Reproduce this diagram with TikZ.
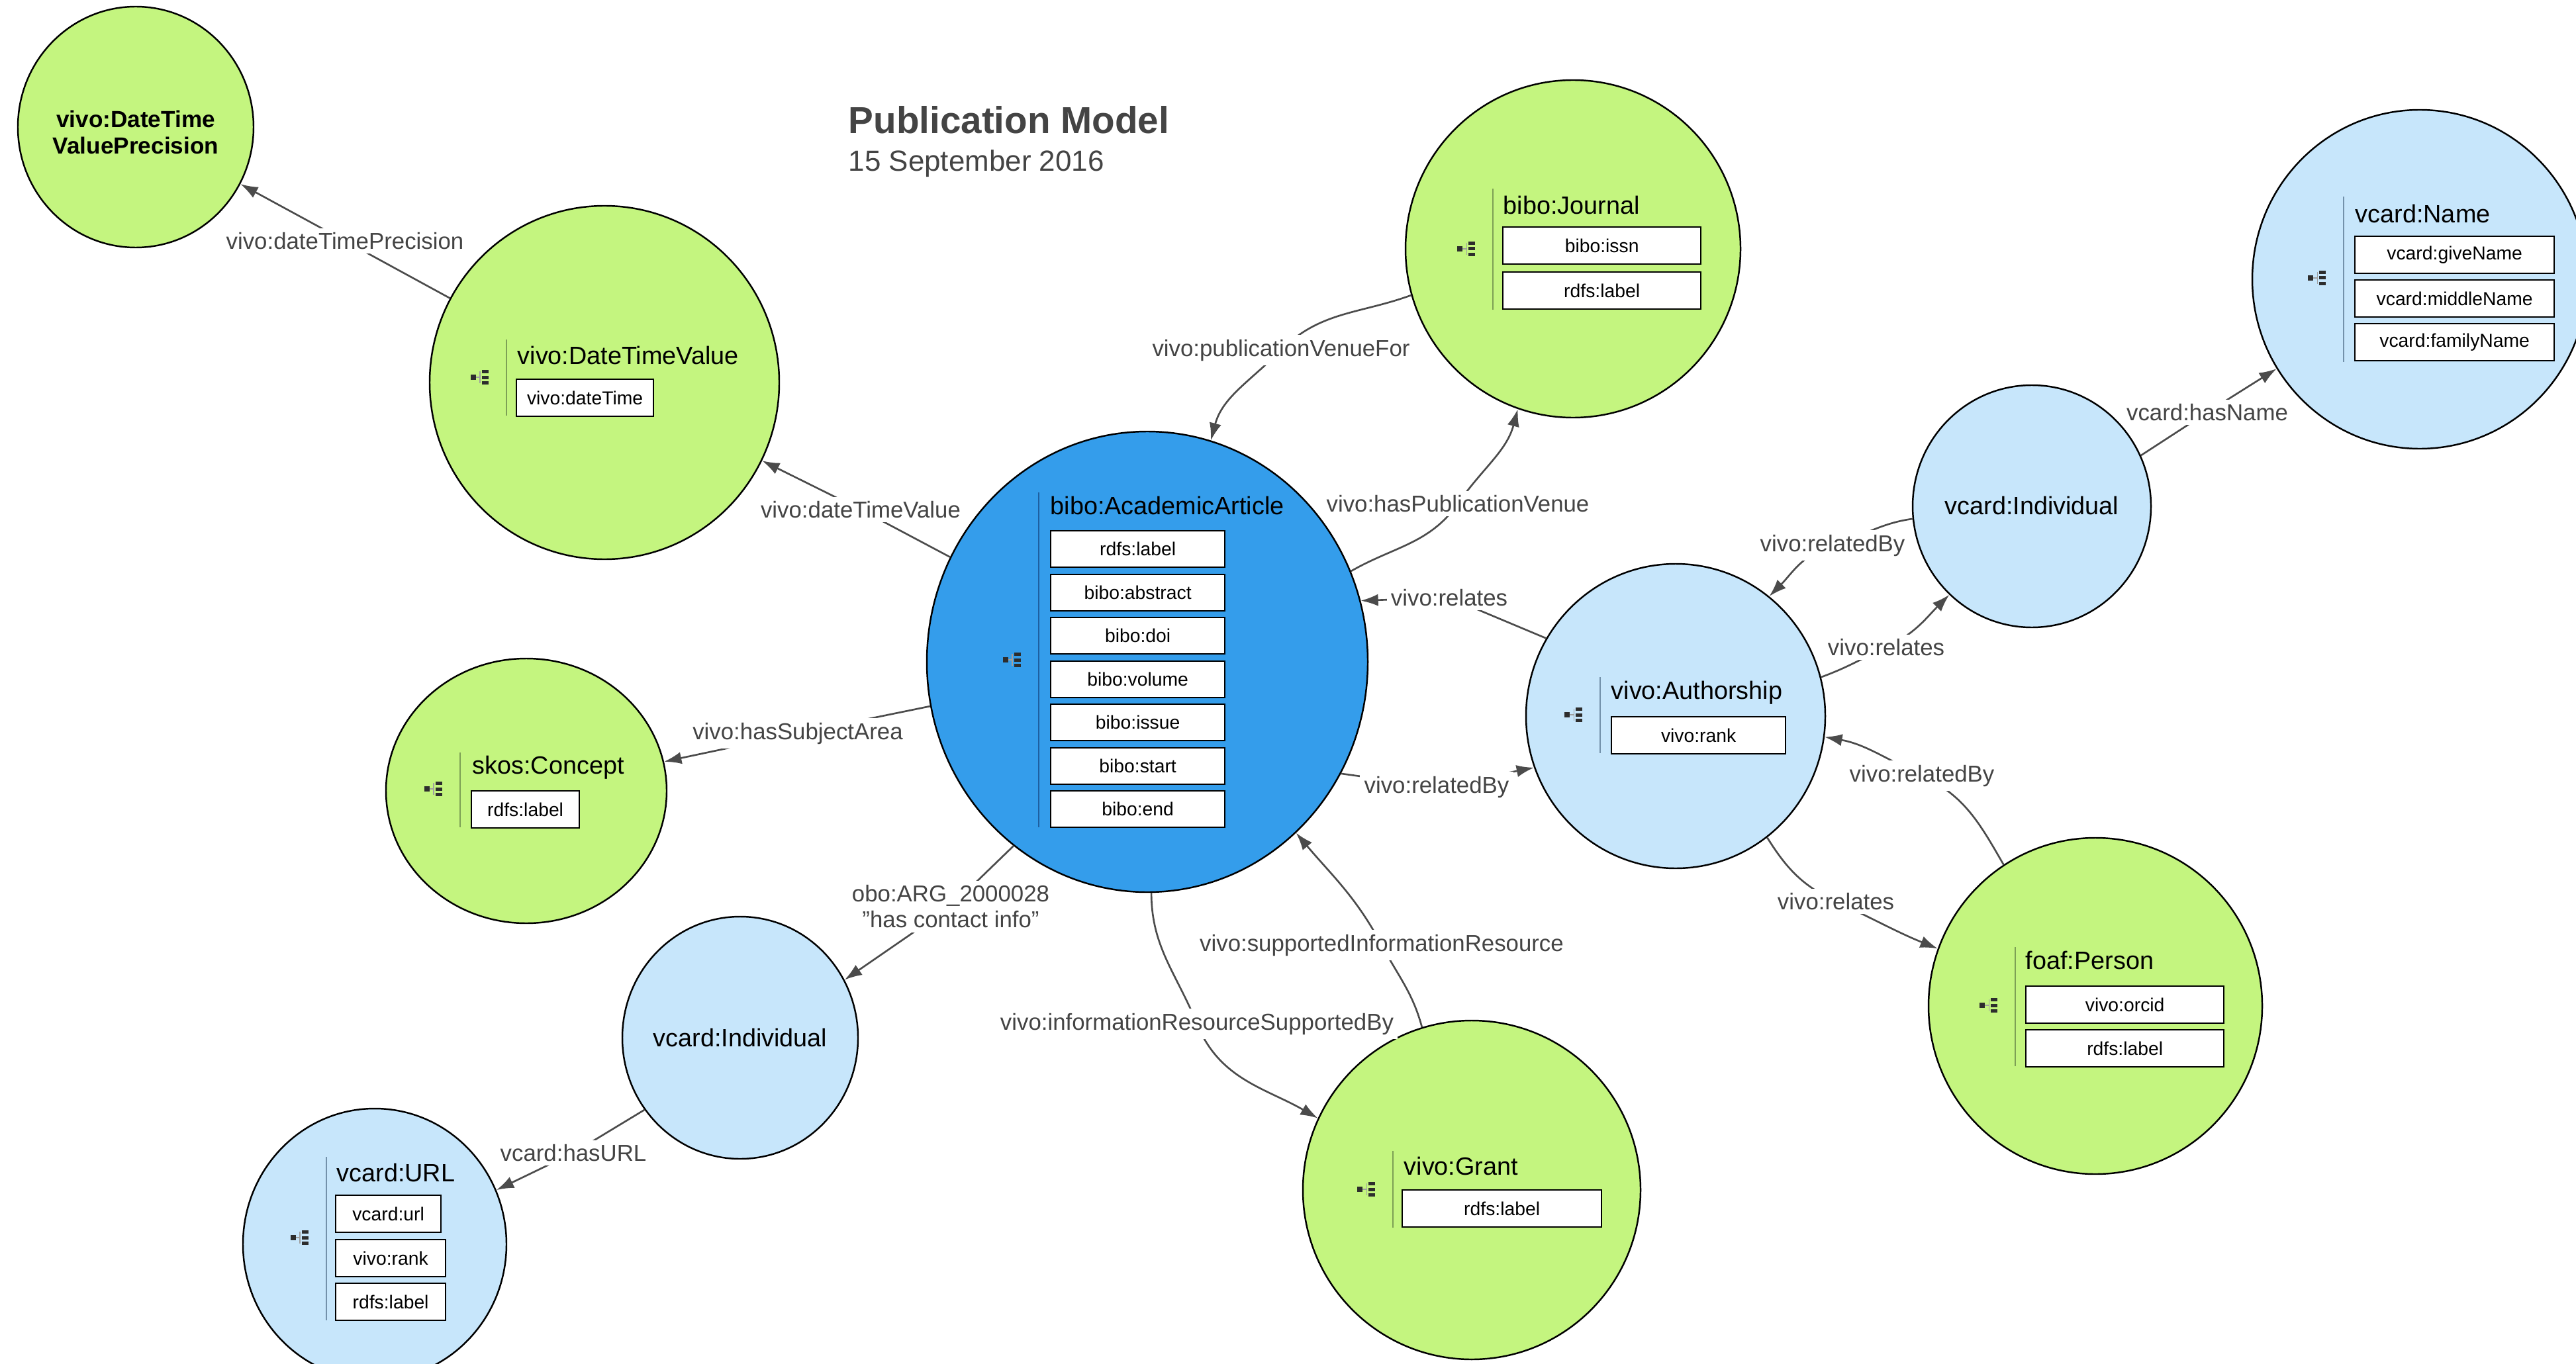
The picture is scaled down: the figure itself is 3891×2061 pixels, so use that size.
\documentclass[tikz,border=0pt]{standalone}
\usepackage{fontspec}
\setmainfont{Liberation Sans}
\usetikzlibrary{shapes.geometric,arrows.meta}
\definecolor{gfill}{RGB}{196,245,127}
\definecolor{bfill}{RGB}{199,230,251}
\definecolor{afill}{RGB}{52,157,235}
\definecolor{egray}{RGB}{75,75,75}
\definecolor{lgray}{RGB}{68,68,68}
\definecolor{gsep}{RGB}{125,160,85}
\definecolor{bsep}{RGB}{115,145,170}
\definecolor{asep}{RGB}{30,95,160}
\definecolor{icol}{RGB}{45,45,45}
\newcommand{\ttlfont}{\fontsize{10.75}{13}\selectfont}
\newcommand{\edgefont}{\fontsize{9.9}{11.1}\selectfont}
\newcommand{\propfont}{\fontsize{8.05}{9.5}\selectfont}
\newcommand{\tbicon}[2]{%
  \begin{scope}[shift={(#1,#2)}]
    \fill[icol] (-16,-4) rectangle (-8,4);
    \draw[icol!45,line width=0.3pt] (-8,0) -- (-2,0) (-2,-9) -- (-2,9);
    \fill[icol] (1,6) rectangle (11,11);
    \fill[icol] (1,-2.5) rectangle (11,2.5);
    \fill[icol] (1,-11) rectangle (11,-6);
  \end{scope}}
\begin{document}
\begin{tikzpicture}[x=0.01cm,y=0.01cm,
  cnode/.style n args={3}{ellipse, draw=black, line width=0.7pt, fill=#1,
     minimum width=#2*0.01cm, minimum height=#3*0.01cm, inner sep=0pt},
  ctitle/.style={font=\ttlfont, text=black, inner sep=0pt, anchor=west},
  pbox/.style={draw=black, line width=0.6pt, fill=white, font=\propfont,
     text=black, inner sep=0pt, anchor=north west, minimum height=0.56cm},
  sepline/.style={draw=#1, line width=0.55pt},
  elabel/.style={font=\edgefont, text=lgray, fill=white, inner sep=1.8pt, align=center},
  conn/.style={draw=egray, line width=0.75pt},
  arr/.style={conn, -{Latex[length=7.5pt,width=5.2pt]}}]

\fill[white] (0,0) rectangle (3891,-2061);
\useasboundingbox (0,0) rectangle (3891,-2061);
\clip (0,0) rectangle (3891,-2061);

% ---------------- title
\node[font=\fontsize{16.1}{19}\bfseries\selectfont, text=lgray, inner sep=0pt, anchor=base west] (title) at (1281,-202) {Publication Model};
\node[font=\fontsize{12.5}{15}\selectfont, text=lgray, inner sep=0pt, anchor=base west] (date) at (1281,-259) {15 September 2016};

% ---------------- class nodes (circles)
\node[cnode={gfill}{356}{364}] (dtvp) at (205,-192) {};
\node[cnode={gfill}{528}{534}] (dtv) at (913,-578) {};
\node[cnode={afill}{666}{696}] (aa) at (1733,-1000) {};
\node[cnode={gfill}{506}{510}] (journal) at (2376,-376) {};
\node[cnode={gfill}{424}{400}] (skos) at (795,-1195) {};
\node[cnode={bfill}{356}{366}] (vindl) at (1118,-1568) {};
\node[cnode={bfill}{398}{410}] (url) at (566,-1880) {};
\node[cnode={gfill}{510}{512}] (grant) at (2223,-1798) {};
\node[cnode={bfill}{452}{460}] (auth) at (2531,-1082) {};
\node[cnode={bfill}{360}{366}] (vindr) at (3069,-765) {};
\node[cnode={bfill}{506}{512}] (name) at (3655,-422) {};
\node[cnode={gfill}{504}{508}] (person) at (3165,-1520) {};

% ---------------- DateTimeValuePrecision
\node[font=\fontsize{10}{11.4}\bfseries\selectfont, align=center, inner sep=0pt] (dtvp-t) at (205,-200) {vivo:DateTime\\ValuePrecision};

% ---------------- DateTimeValue
\draw[sepline=gsep] (765,-513) -- (765,-628);
\tbicon{727}{-570}
\node[ctitle] (dtv-t) at (781,-537) {vivo:DateTimeValue};
\node[pbox, minimum width=2.07cm] (dtv-p0) at (779,-572) {vivo:dateTime};

% ---------------- AcademicArticle
\draw[sepline=asep] (1569,-744) -- (1569,-1250);
\tbicon{1531}{-997}
\node[ctitle] (aa-t) at (1586,-764) {bibo:AcademicArticle};
\foreach \t [count=\i from 0] in {rdfs:label,bibo:abstract,bibo:doi,bibo:volume,bibo:issue,bibo:start,bibo:end}
  \node[pbox, minimum width=2.63cm, minimum height=0.55cm] (aa-p\i) at (1586,{-801-65.5*\i}) {\t};

% ---------------- Journal
\draw[sepline=gsep] (2255,-285) -- (2255,-468);
\tbicon{2217}{-376}
\node[ctitle] (journal-t) at (2270,-310) {bibo:Journal};
\node[pbox, minimum width=2.99cm] (journal-p0) at (2269,-342) {bibo:issn};
\node[pbox, minimum width=2.99cm] (journal-p1) at (2269,-410) {rdfs:label};

% ---------------- skos:Concept
\draw[sepline=gsep] (695,-1137) -- (695,-1250);
\tbicon{657}{-1192}
\node[ctitle] (skos-t) at (713,-1160) {skos:Concept};
\node[pbox, minimum width=1.63cm] (skos-p0) at (711,-1194) {rdfs:label};

% ---------------- vcard:Individual (left)
\node[font=\ttlfont, inner sep=0pt] (vindl-t) at (1118,-1568) {vcard:Individual};

% ---------------- vcard:URL
\draw[sepline=bsep] (493,-1748) -- (493,-1995);
\tbicon{455}{-1870}
\node[ctitle] (url-t) at (508,-1772) {vcard:URL};
\node[pbox, minimum width=1.59cm] (url-p0) at (506,-1805) {vcard:url};
\node[pbox, minimum width=1.66cm] (url-p1) at (506,-1872) {vivo:rank};
\node[pbox, minimum width=1.66cm] (url-p2) at (506,-1938) {rdfs:label};

% ---------------- vivo:Grant
\draw[sepline=gsep] (2104,-1739) -- (2104,-1855);
\tbicon{2066}{-1797}
\node[ctitle] (grant-t) at (2120,-1762) {vivo:Grant};
\node[pbox, minimum width=3.01cm] (grant-p0) at (2117,-1797) {rdfs:label};

% ---------------- vivo:Authorship
\draw[sepline=bsep] (2417,-1023) -- (2417,-1138);
\tbicon{2379}{-1080}
\node[ctitle] (auth-t) at (2433,-1047) {vivo:Authorship};
\node[pbox, minimum width=2.63cm] (auth-p0) at (2433,-1082) {vivo:rank};

% ---------------- vcard:Individual (right)
\node[font=\ttlfont, inner sep=0pt] (vindr-t) at (3069,-764) {vcard:Individual};

% ---------------- vcard:Name
\draw[sepline=bsep] (3540,-297) -- (3540,-547);
\tbicon{3502}{-420}
\node[ctitle] (name-t) at (3557,-323) {vcard:Name};
\node[pbox, minimum width=3.01cm] (name-p0) at (3556,-356) {vcard:giveName};
\node[pbox, minimum width=3.01cm] (name-p1) at (3556,-422) {vcard:middleName};
\node[pbox, minimum width=3.01cm] (name-p2) at (3556,-488) {vcard:familyName};

% ---------------- foaf:Person
\draw[sepline=gsep] (3044,-1431) -- (3044,-1611);
\tbicon{3006}{-1519}
\node[ctitle] (person-t) at (3059,-1451) {foaf:Person};
\node[pbox, minimum width=2.99cm] (person-p0) at (3059,-1489) {vivo:orcid};
\node[pbox, minimum width=2.99cm] (person-p1) at (3059,-1555) {rdfs:label};

% ---------------- label positions
\coordinate (c1) at (521,-364);
\coordinate (c2) at (1300,-770);
\coordinate (c3) at (1205,-1108);
\coordinate (c4) at (1436,-1370);
\coordinate (c5) at (866,-1742);
\coordinate (c6) at (1808,-1547);
\coordinate (c7) at (2087,-1428);
\coordinate (c8) at (1935,-529);
\coordinate (c9) at (2202,-761);
\coordinate (c10) at (2189,-903);
\coordinate (c11) at (2170,-1189);
\coordinate (c12) at (2768,-824);
\coordinate (c13) at (2849,-978);
\coordinate (c14) at (3334,-623);
\coordinate (c15) at (2903,-1172);
\coordinate (c16) at (2773,-1362);

% ---------------- connectors
\draw[arr] (dtv) -- (c1) -- (dtvp);
\draw[arr] (aa) -- (c2) -- (dtv);
\draw[arr] (aa) -- (c3) -- (skos);
\draw[arr] (aa.234) -- (c4) -- (vindl.29);
\draw[arr] (vindl.217) -- (c5) -- (url.24);
\draw[arr] (aa.271) to[out=-90,in=112] (c6) to[out=-68,in=150] (grant.155);
\draw[arr] (grant.107) to[out=105,in=-62] (c7) to[out=118,in=-50] (aa.-49);
\draw[arr] (journal.196) to[out=200,in=45] (c8) to[out=225,in=75] (aa.74);
\draw[arr] (aa.24) to[out=30,in=-125] (c9) to[out=55,in=-105] (journal.251);
\draw[arr] (auth.149) -- (c10) -- (aa.16);
\draw[arr] (aa.-30) -- (c11) -- (auth.200);
\draw[arr] (vindr.186) to[out=188,in=17] (c12) to[out=197,in=45] (auth.52);
\draw[arr] (auth.15) to[out=20,in=205] (c13) to[out=25,in=225] (vindr.227);
\draw[arr] (vindr.25) -- (c14) -- (name.212);
\draw[arr] (person.123) to[out=120,in=-25] (c15) to[out=155,in=-10] (auth.-8);
\draw[arr] (auth.-53) to[out=-58,in=155] (c16) to[out=-25,in=158] (person.160);

% ---------------- edge labels
\node[elabel] (l1) at (c1) {vivo:dateTimePrecision};
\node[elabel] (l2) at (c2) {vivo:dateTimeValue};
\node[elabel] (l3) at (c3) {vivo:hasSubjectArea};
\node[elabel] (l4) at (c4) {obo:ARG\_2000028\\"has contact info"};
\node[elabel] (l5) at (c5) {vcard:hasURL};
\node[elabel] (l6) at (c6) {vivo:informationResourceSupportedBy};
\node[elabel] (l7) at (c7) {vivo:supportedInformationResource};
\node[elabel] (l8) at (c8) {vivo:publicationVenueFor};
\node[elabel] (l9) at (c9) {vivo:hasPublicationVenue};
\node[elabel] (l10) at (c10) {vivo:relates};
\node[elabel] (l11) at (c11) {vivo:relatedBy};
\node[elabel] (l12) at (c12) {vivo:relatedBy};
\node[elabel] (l13) at (c13) {vivo:relates};
\node[elabel] (l14) at (c14) {vcard:hasName};
\node[elabel] (l15) at (c15) {vivo:relatedBy};
\node[elabel] (l16) at (c16) {vivo:relates};
\end{tikzpicture}
\end{document}
